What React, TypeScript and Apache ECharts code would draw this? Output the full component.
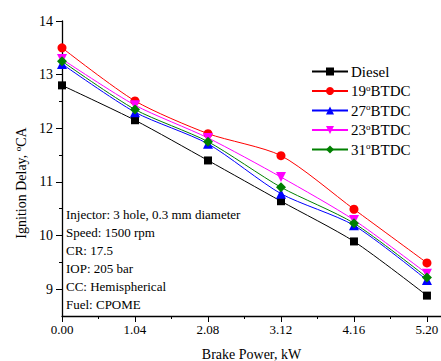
import React, { useEffect, useRef } from "react";
import * as echarts from "echarts";

const categories = [0, 1.04, 2.08, 3.12, 4.16, 5.2];
const minorX = [0.52, 1.56, 2.6, 3.64, 4.68];
const yTicks = [9, 10, 11, 12, 13, 14];
const yMinor = [9.5, 10.5, 11.5, 12.5, 13.5];

const diesel = [12.8, 12.15, 11.4, 10.64, 9.89, 8.88];
const btdc19 = [13.5, 12.51, 11.9, 11.49, 10.49, 9.49];
const btdc27 = [13.2, 12.3, 11.71, 10.78, 10.19, 9.17];
const btdc23 = [13.29, 12.43, 11.82, 11.09, 10.29, 9.29];
const btdc31 = [13.25, 12.35, 11.75, 10.9, 10.23, 9.22];

const notes = [
  "Injector: 3 hole, 0.3 mm diameter",
  "Speed: 1500 rpm",
  "CR: 17.5",
  "IOP: 205 bar",
  "CC: Hemispherical",
  "Fuel: CPOME",
];

const FONT = "Liberation Serif";

export default function App() {
  const ref = useRef<HTMLDivElement>(null);
  useEffect(() => {
    if (!ref.current) return;
    const chart = echarts.init(ref.current, null, { renderer: "svg" });
    const pts = (arr: number[]) => categories.map((x, i) => [x, arr[i]]);
    const mk = (name: string, data: number[], color: string, symbol: string, size: number, rotate = 0) => ({
      name,
      type: "line",
      data: pts(data),
      smooth: 0.25,
      symbol,
      symbolSize: size,
      symbolRotate: rotate,
      itemStyle: { color },
      lineStyle: { color, width: 1 },
      xAxisIndex: 0,
      yAxisIndex: 0,
    });
    const axisLine = { show: true, lineStyle: { color: "#000", width: 1.3 } };
    chart.setOption({
      animation: false,
      grid: { left: 62, top: 21, right: 0, bottom: 45, containLabel: false, outerBoundsMode: "none" },
      xAxis: [
        {
          type: "value",
          min: 0,
          max: 5.4,
          position: "bottom",
          axisLine,
          axisTick: { show: true, customValues: categories, length: 6, inside: false, lineStyle: { color: "#000" } },
          axisLabel: {
            customValues: categories,
            formatter: (v: number) => v.toFixed(2),
            color: "#000",
            fontFamily: FONT,
            fontSize: 13,
            margin: 7,
          },
          splitLine: { show: false },
          name: "Brake Power, kW",
          nameLocation: "middle",
          nameGap: 31,
          nameTextStyle: { color: "#000", fontFamily: FONT, fontSize: 14 },
        },
        {
          type: "value",
          min: 0,
          max: 5.4,
          position: "bottom",
          axisLine: { show: false },
          axisTick: { show: true, customValues: minorX, length: 3, lineStyle: { color: "#000" } },
          axisLabel: { show: false },
          splitLine: { show: false },
        },
      ],
      yAxis: [
        {
          type: "value",
          min: 8.5,
          max: 14,
          axisLine,
          axisTick: { show: true, customValues: yTicks, length: 6, lineStyle: { color: "#000" } },
          axisLabel: { customValues: yTicks, color: "#000", fontFamily: FONT, fontSize: 14, margin: 9 },
          splitLine: { show: false },
        },
        {
          type: "value",
          min: 8.5,
          max: 14,
          position: "left",
          axisLine: { show: false },
          axisTick: { show: true, customValues: yMinor, length: 3, lineStyle: { color: "#000" } },
          axisLabel: { show: false },
          splitLine: { show: false },
        },
      ],
      legend: {
        orient: "vertical",
        left: 306,
        top: 59,
        itemWidth: 36,
        itemHeight: 10,
        itemGap: 4,
        data: ["Diesel", "19°BTDC", "27°BTDC", "23°BTDC", "31°BTDC"],
        formatter: (n: string) => {
          const p = n.split("°");
          return p.length > 1 ? `{n|${p[0]}}{sup|o}{n|${p[1]}}` : `{n|${n}}`;
        },
        textStyle: {
          color: "#000",
          fontFamily: FONT,
          fontSize: 15,
          padding: [0, 0, 0, -2],
          rich: {
            n: { fontSize: 15, fontFamily: FONT, color: "#000", lineHeight: 16 },
            sup: { fontSize: 9, fontFamily: FONT, color: "#000", verticalAlign: "top", lineHeight: 16, padding: [0, 0, 6, 0] },
          },
        },
      },
      graphic: [
        {
          type: "text",
          x: 21,
          y: 183,
          rotation: Math.PI / 2,
          style: {
            text: "Ignition Delay, {sup|o}CA",
            fill: "#000",
            font: `14px ${FONT}`,
            align: "center",
            verticalAlign: "middle",
            rich: { sup: { fontSize: 9, fontFamily: FONT, fill: "#000", verticalAlign: "bottom", padding: [0, 0, 7, 0] } },
          },
        },
        {
          type: "text",
          left: 66,
          top: 205,
          style: {
            text: notes.join("\n"),
            fill: "#000",
            font: `13px ${FONT}`,
            lineHeight: 18,
          },
        },
      ],
      series: [
        mk("Diesel", diesel, "#000000", "rect", 8),
        mk("19°BTDC", btdc19, "#ff0000", "circle", 9),
        mk("27°BTDC", btdc27, "#0000ff", "triangle", 10),
        mk("23°BTDC", btdc23, "#ff00ff", "triangle", 10, 180),
        mk("31°BTDC", btdc31, "#008000", "diamond", 10),
      ],
    });
    return () => chart.dispose();
  }, []);
  return <div ref={ref} style={{ width: 441, height: 361, position: "absolute", left: 0, top: 0 }} />;
}
